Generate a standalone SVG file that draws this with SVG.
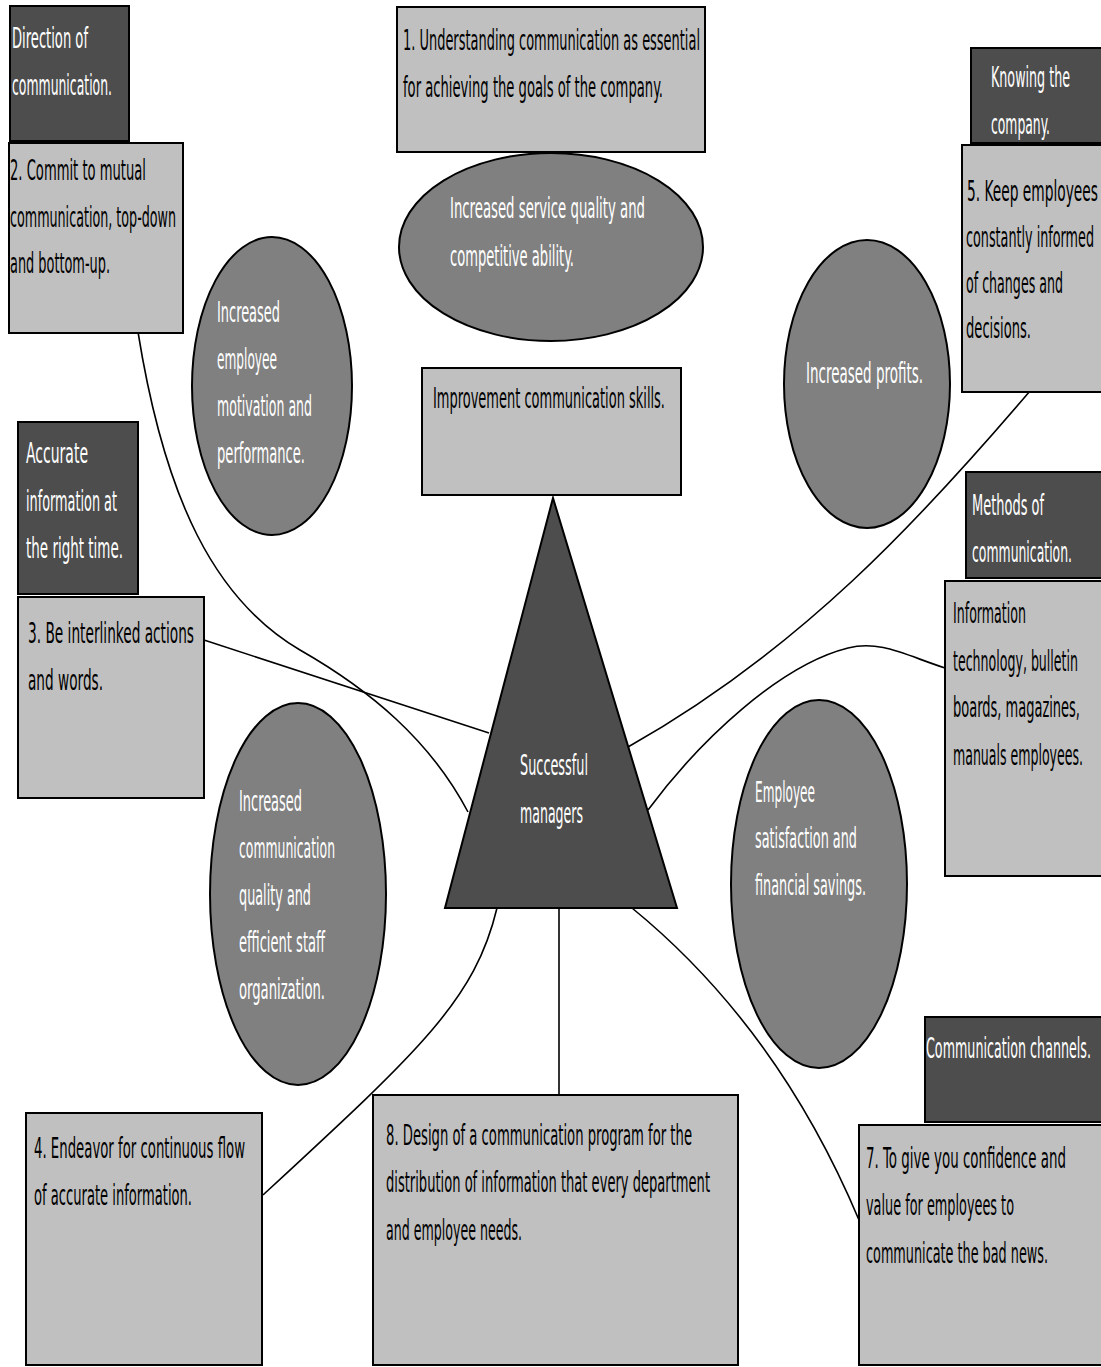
<svg xmlns="http://www.w3.org/2000/svg" width="1101" height="1367" viewBox="0 0 1101 1367">
<style>
.dark{fill:#4d4d4d;stroke:#000;stroke-width:2}
.light{fill:#c0c0c0;stroke:#000;stroke-width:2}
.ell{fill:#808080;stroke:#000;stroke-width:2}
.tri{fill:#4d4d4d;stroke:#000;stroke-width:2}
.conn{fill:none;stroke:#000;stroke-width:1.6}
text{font-family:"Liberation Sans Narrow","DejaVu Sans Condensed","Liberation Sans",sans-serif;font-size:29px}
.w{fill:#fff}
.b{fill:#000}
</style>
<rect width="1101" height="1367" fill="#fff"/>
<g id="connectors">
<path class="conn" d="M138,332 C165,500 215,600 300,650 C370,690 430,740 468,812"/>
<path class="conn" d="M204,640 L489,733"/>
<path class="conn" d="M1030,391 C920,520 800,650 628,747"/>
<path class="conn" d="M945,668 C905,655 880,640 848,648 C780,665 700,740 648,810"/>
<path class="conn" d="M497,908 C475,1000 420,1050 263,1195"/>
<path class="conn" d="M559,908 L559,1095"/>
<path class="conn" d="M632,908 C720,980 800,1080 859,1220"/>
</g>
<g id="n-direction">
<rect class="dark" x="10" y="6" width="119" height="135"/>
<text class="w" x="12" y="48" textLength="76" lengthAdjust="spacingAndGlyphs">Direction of</text>
<text class="w" x="12" y="95" textLength="100" lengthAdjust="spacingAndGlyphs">communication.</text>
</g>
<g id="n-2">
<rect class="light" x="9" y="143" width="174" height="190"/>
<text class="b" x="10" y="180" textLength="136" lengthAdjust="spacingAndGlyphs">2. Commit to mutual</text>
<text class="b" x="10" y="227" textLength="166" lengthAdjust="spacingAndGlyphs">communication, top-down</text>
<text class="b" x="10" y="273" textLength="100" lengthAdjust="spacingAndGlyphs">and bottom-up.</text>
</g>
<g id="n-1">
<rect class="light" x="397" y="7" width="308" height="145"/>
<text class="b" x="403" y="50" textLength="297" lengthAdjust="spacingAndGlyphs">1. Understanding communication as essential</text>
<text class="b" x="403" y="97" textLength="260" lengthAdjust="spacingAndGlyphs">for achieving the goals of the company.</text>
</g>
<g id="n-service">
<ellipse class="ell" cx="551" cy="247" rx="152" ry="94"/>
<text class="w" x="450" y="218" textLength="195" lengthAdjust="spacingAndGlyphs">Increased service quality and</text>
<text class="w" x="450" y="266" textLength="124" lengthAdjust="spacingAndGlyphs">competitive ability.</text>
</g>
<g id="n-skills">
<rect class="light" x="422" y="368" width="259" height="127"/>
<text class="b" x="433" y="408" textLength="232" lengthAdjust="spacingAndGlyphs">Improvement communication skills.</text>
</g>
<g id="n-motivation">
<ellipse class="ell" cx="272" cy="386" rx="80" ry="149"/>
<text class="w" x="217" y="322" textLength="63" lengthAdjust="spacingAndGlyphs">Increased</text>
<text class="w" x="217" y="369" textLength="60" lengthAdjust="spacingAndGlyphs">employee</text>
<text class="w" x="217" y="416" textLength="95" lengthAdjust="spacingAndGlyphs">motivation and</text>
<text class="w" x="217" y="463" textLength="88" lengthAdjust="spacingAndGlyphs">performance.</text>
</g>
<g id="n-profits">
<ellipse class="ell" cx="867" cy="384" rx="83" ry="144"/>
<text class="w" x="806" y="383" textLength="117" lengthAdjust="spacingAndGlyphs">Increased profits.</text>
</g>
<g id="n-knowing">
<rect class="dark" x="971" y="48" width="132" height="95"/>
<text class="w" x="991" y="87" textLength="79" lengthAdjust="spacingAndGlyphs">Knowing the</text>
<text class="w" x="991" y="134" textLength="59" lengthAdjust="spacingAndGlyphs">company.</text>
</g>
<g id="n-5">
<rect class="light" x="962" y="145" width="141" height="247"/>
<text class="b" x="967" y="201" textLength="131" lengthAdjust="spacingAndGlyphs">5. Keep employees</text>
<text class="b" x="966" y="247" textLength="128" lengthAdjust="spacingAndGlyphs">constantly informed</text>
<text class="b" x="966" y="293" textLength="97" lengthAdjust="spacingAndGlyphs">of changes and</text>
<text class="b" x="966" y="338" textLength="65" lengthAdjust="spacingAndGlyphs">decisions.</text>
</g>
<g id="n-accurate">
<rect class="dark" x="18" y="422" width="120" height="172"/>
<text class="w" x="26" y="463" textLength="62" lengthAdjust="spacingAndGlyphs">Accurate</text>
<text class="w" x="26" y="511" textLength="91" lengthAdjust="spacingAndGlyphs">information at</text>
<text class="w" x="26" y="558" textLength="97" lengthAdjust="spacingAndGlyphs">the right time.</text>
</g>
<g id="n-3">
<rect class="light" x="18" y="597" width="186" height="201"/>
<text class="b" x="28" y="643" textLength="166" lengthAdjust="spacingAndGlyphs">3. Be interlinked actions</text>
<text class="b" x="28" y="690" textLength="75" lengthAdjust="spacingAndGlyphs">and words.</text>
</g>
<g id="n-quality">
<ellipse class="ell" cx="298" cy="894" rx="88" ry="191"/>
<text class="w" x="239" y="811" textLength="63" lengthAdjust="spacingAndGlyphs">Increased</text>
<text class="w" x="239" y="858" textLength="96" lengthAdjust="spacingAndGlyphs">communication</text>
<text class="w" x="239" y="905" textLength="72" lengthAdjust="spacingAndGlyphs">quality and</text>
<text class="w" x="239" y="952" textLength="86" lengthAdjust="spacingAndGlyphs">efficient staff</text>
<text class="w" x="239" y="999" textLength="86" lengthAdjust="spacingAndGlyphs">organization.</text>
</g>
<g id="n-managers">
<polygon class="tri" points="553,498 677,908 445,908"/>
<text class="w" x="520" y="775" textLength="68" lengthAdjust="spacingAndGlyphs">Successful</text>
<text class="w" x="520" y="823" textLength="63" lengthAdjust="spacingAndGlyphs">managers</text>
</g>
<g id="n-methods">
<rect class="dark" x="966" y="472" width="137" height="106"/>
<text class="w" x="972" y="515" textLength="72" lengthAdjust="spacingAndGlyphs">Methods of</text>
<text class="w" x="972" y="562" textLength="100" lengthAdjust="spacingAndGlyphs">communication.</text>
</g>
<g id="n-info">
<rect class="light" x="945" y="581" width="158" height="295"/>
<text class="b" x="953" y="623" textLength="73" lengthAdjust="spacingAndGlyphs">Information</text>
<text class="b" x="953" y="671" textLength="125" lengthAdjust="spacingAndGlyphs">technology, bulletin</text>
<text class="b" x="953" y="717" textLength="127" lengthAdjust="spacingAndGlyphs">boards, magazines,</text>
<text class="b" x="953" y="765" textLength="130" lengthAdjust="spacingAndGlyphs">manuals employees.</text>
</g>
<g id="n-satisfaction">
<ellipse class="ell" cx="819" cy="884" rx="88" ry="184"/>
<text class="w" x="755" y="802" textLength="60" lengthAdjust="spacingAndGlyphs">Employee</text>
<text class="w" x="755" y="848" textLength="102" lengthAdjust="spacingAndGlyphs">satisfaction and</text>
<text class="w" x="755" y="895" textLength="111" lengthAdjust="spacingAndGlyphs">financial savings.</text>
</g>
<g id="n-channels">
<rect class="dark" x="925" y="1017" width="178" height="105"/>
<text class="w" x="926" y="1058" textLength="165" lengthAdjust="spacingAndGlyphs">Communication channels.</text>
</g>
<g id="n-7">
<rect class="light" x="859" y="1125" width="244" height="240"/>
<text class="b" x="866" y="1168" textLength="200" lengthAdjust="spacingAndGlyphs">7. To give you confidence and</text>
<text class="b" x="866" y="1215" textLength="148" lengthAdjust="spacingAndGlyphs">value for employees to</text>
<text class="b" x="866" y="1263" textLength="182" lengthAdjust="spacingAndGlyphs">communicate the bad news.</text>
</g>
<g id="n-4">
<rect class="light" x="26" y="1113" width="236" height="252"/>
<text class="b" x="34" y="1158" textLength="211" lengthAdjust="spacingAndGlyphs">4. Endeavor for continuous flow</text>
<text class="b" x="34" y="1205" textLength="158" lengthAdjust="spacingAndGlyphs">of accurate information.</text>
</g>
<g id="n-8">
<rect class="light" x="373" y="1095" width="365" height="270"/>
<text class="b" x="386" y="1145" textLength="306" lengthAdjust="spacingAndGlyphs">8. Design of a communication program for the</text>
<text class="b" x="386" y="1192" textLength="324" lengthAdjust="spacingAndGlyphs">distribution of information that every department</text>
<text class="b" x="386" y="1240" textLength="136" lengthAdjust="spacingAndGlyphs">and employee needs.</text>
</g>
</svg>
